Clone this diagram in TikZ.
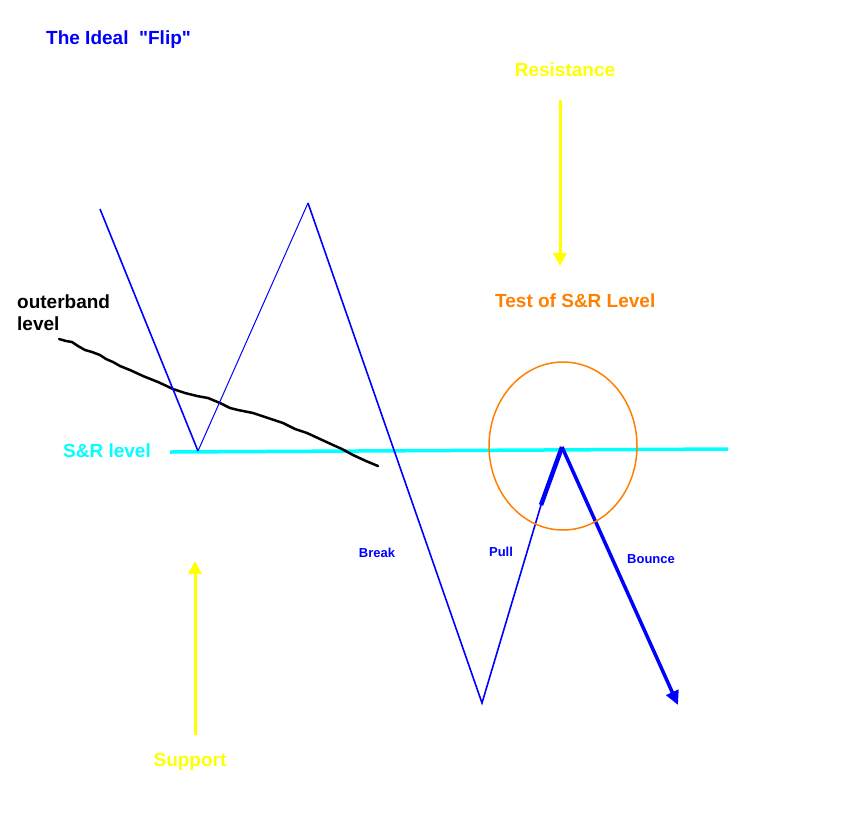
\documentclass[tikz,border=0pt]{standalone}
\usepackage{fontspec}
\setmainfont{Liberation Sans}[Ligatures=TeXOff]
\usetikzlibrary{arrows.meta, shapes.geometric}
\definecolor{flipblue}{HTML}{0000FF}
\definecolor{flipcyan}{HTML}{00FFFF}
\definecolor{flipyellow}{HTML}{FFFF00}
\definecolor{fliporange}{HTML}{FF8000}

\begin{document}
\begin{tikzpicture}[x=1pt, y=-1pt,
    lbl/.style={font=\bfseries\fontsize{19}{22}\selectfont, inner sep=0pt},
    small/.style={font=\bfseries\fontsize{13}{15}\selectfont, text=flipblue, inner sep=0pt},
    leg/.style={draw=flipblue, line width=1.6pt},
    yarr/.style={-{Triangle[length=13pt, width=13pt]}, line width=3pt, draw=flipyellow}]
    \useasboundingbox[fill=white] (0,0) rectangle (861,823);
    % labels
    \node[lbl, text=flipblue, anchor=west] (title) at (46,40) {The Ideal\ \ "Flip"};
    \node[lbl, text=flipyellow] (res) at (565,70) {Resistance};
    \node[lbl, text=fliporange, anchor=west] (test) at (495,301) {Test of S\&R Level};
    \node[lbl, anchor=west, align=left] (outer) at (17,313) {outerband\\level};
    \node[lbl, text=flipcyan, anchor=west] (srlbl) at (63,451) {S\&R level};
    \node[lbl, text=flipyellow] (sup) at (190,762) {Support};
    \node[small] (brk) at (377,553) {Break};
    \node[small] (pull) at (501,552) {Pull};
    \node[small] (bnc) at (651,559) {Bounce};
    % price path
    \coordinate (p0) at (100,209);
    \coordinate (p1) at (198,451);
    \coordinate (p2) at (308,203);
    \coordinate (p3) at (482,703);
    \coordinate (pm) at (541,505);
    \coordinate (p4) at (562,447);
    \coordinate (p5) at (678,705);
    % S&R level
    \coordinate (sr0) at (170,452);
    \coordinate (sr1) at (728,449);
    \draw[flipcyan, line width=3.5pt] (sr0) -- (sr1);
    % outer band
    \draw[black, line width=2.5pt, line join=round, line cap=round]
      (59,339) -- (66,341) -- (72,342) -- (78,346) -- (85,350) -- (92,352)
      -- (100,355) -- (106,359) -- (113,362) -- (120,366) -- (130,370)
      -- (143,376) -- (158,382) -- (173,389) -- (185,393) -- (197,396)
      -- (208,398) -- (220,403) -- (230,408) -- (238,410) -- (253,413)
      -- (268,418) -- (283,423) -- (295,429) -- (307,433) -- (320,439)
      -- (333,445) -- (342,449) -- (353,455) -- (366,461) -- (378,466);
    \draw[leg] (p0) -- (p1);
    \draw[leg, line width=1pt] (p1) -- (p2);
    \draw[leg] (p2) -- (p3) -- (pm);
    \draw[leg, line width=4.5pt] (pm) -- (p4);
    \draw[leg, line width=3.5pt, -{Triangle[length=14pt, width=13pt]}] (p4) -- (p5);
    % test circle
    \node[draw=fliporange, ellipse, line width=1.5pt, minimum width=148pt,
          minimum height=168pt] (ring) at (563,446) {};
    % yellow arrows
    \coordinate (resTop) at (560,100);
    \coordinate (resTip) at (560,266);
    \coordinate (supBot) at (195,735);
    \coordinate (supTip) at (195,561);
    \draw[yarr] (resTop) -- (resTip);
    \draw[yarr] (supBot) -- (supTip);
\end{tikzpicture}
\end{document}
